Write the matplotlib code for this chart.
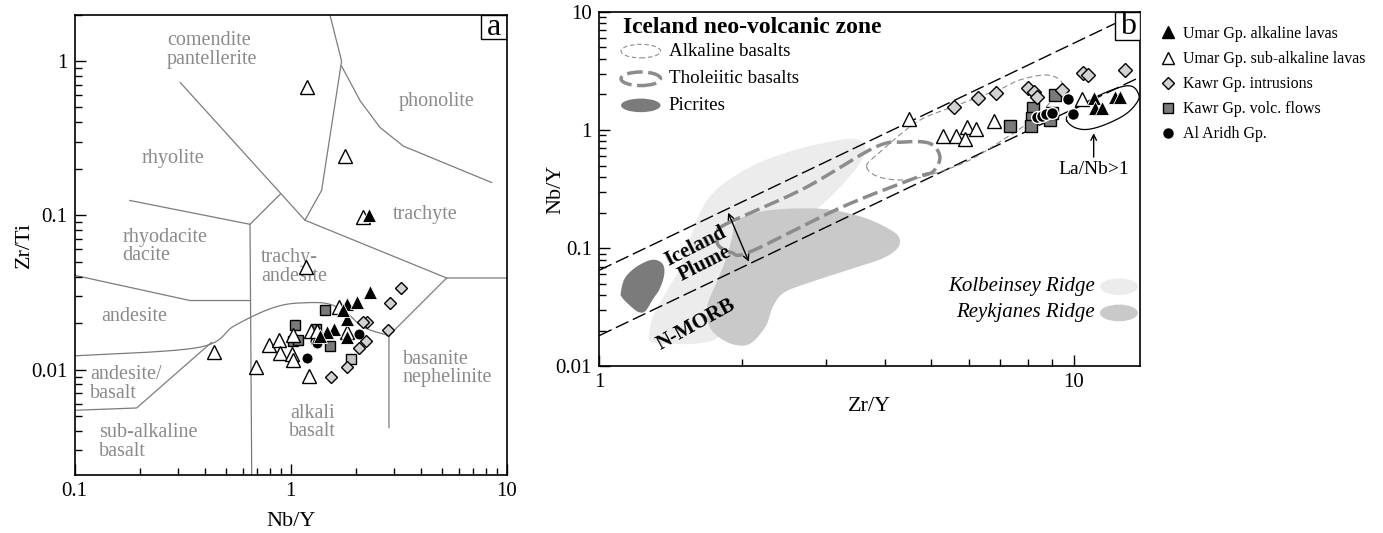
import numpy as np
import matplotlib
matplotlib.use("Agg")
import matplotlib.pyplot as plt
from matplotlib.patches import Ellipse, Rectangle
from matplotlib.lines import Line2D

plt.rcParams['font.family'] = ['Liberation Serif', 'DejaVu Serif']

# ---------------- panel a data (Nb/Y vs Zr/Ti) ----------------
a_sub_x = [1.18, 0.69, 1.22, 0.796, 0.885, 0.892, 1.01, 1.02, 1.03, 1.24, 1.33, 1.68, 1.82, 1.186, 1.78, 2.17, 0.441]
a_sub_y = [0.0461, 0.0104, 0.0091, 0.01445, 0.01556, 0.01276, 0.01262, 0.01153, 0.01679, 0.0179, 0.0179, 0.0254, 0.0176, 0.683, 0.241, 0.0968, 0.0130]
a_alk_x = [2.33, 1.83, 2.02, 1.82, 1.59, 1.47, 1.37, 1.83, 1.75, 2.31]
a_alk_y = [0.0317, 0.0267, 0.0272, 0.0212, 0.0182, 0.0176, 0.0165, 0.0162, 0.0244, 0.1008]
a_int_x = [3.23, 2.88, 2.26, 2.15, 2.83, 2.23, 2.06, 1.82, 1.54]
a_int_y = [0.0337, 0.0269, 0.0203, 0.0203, 0.0181, 0.0152, 0.0137, 0.01035, 0.0089]
a_flow_x = [1.44, 1.05, 1.03, 1.31, 1.52, 1.08]
a_flow_y = [0.0244, 0.0195, 0.0152, 0.0182, 0.0142, 0.01556]
a_flow2_x = [1.91]
a_flow2_y = [0.0117]
a_ar_x = [1.19, 1.30, 2.06, 1.33]
a_ar_y = [0.0118, 0.0152, 0.0170, 0.0148]

# field boundaries (Nb/Y, Zr/Ti)
a_bounds = [
    ([0.308, 1.164, 5.27, 10.0], [0.726, 0.0929, 0.0392, 0.0392]),
    ([5.27, 2.85, 2.85], [0.0392, 0.0166, 0.0042]),
    ([1.52, 1.72, 1.39, 1.164], [1.985, 1.0, 0.145, 0.0929]),
    ([1.72, 2.1, 2.59, 3.32, 8.52], [0.927, 0.55, 0.371, 0.281, 0.163]),
    ([0.180, 0.648, 0.893], [0.1247, 0.0874, 0.1367]),
    ([0.648, 0.66], [0.0874, 0.00207]),
    ([0.1, 0.342, 0.648], [0.0408, 0.0280, 0.0280]),
    ([0.1, 0.374, 0.543, 0.721, 0.9, 1.105, 1.468, 1.8, 2.17, 2.85],
     [0.01226, 0.0139, 0.01905, 0.0233, 0.0260, 0.0270, 0.0268, 0.0235, 0.0188, 0.0166]),
    ([0.1, 0.1936, 0.43], [0.00544, 0.00563, 0.0150]),
]
a_labels = [
    ("comendite\npantellerite", 0.267, 1.18, 'left'),
    ("phonolite", 4.74, 0.544, 'center'),
    ("rhyolite", 0.284, 0.235, 'center'),
    ("trachyte", 4.2, 0.1018, 'center'),
    ("rhyodacite\ndacite", 0.1664, 0.0629, 'left'),
    ("trachy-\nandesite", 0.7296, 0.0463, 'left'),
    ("andesite", 0.1888, 0.022, 'center'),
    ("andesite/\nbasalt", 0.1178, 0.00804, 'left'),
    ("sub-alkaline\nbasalt", 0.1297, 0.00339, 'left'),
    ("alkali\nbasalt", 1.265, 0.00455, 'center'),
    ("basanite\nnephelinite", 3.30, 0.0102, 'left'),
]

# ---------------- panel b data (Zr/Y vs Nb/Y) ----------------
b_int_x = [5.58, 6.29, 6.86, 8.02, 8.24, 8.37, 9.42, 10.47, 10.7, 12.8]
b_int_y = [1.56, 1.85, 2.04, 2.25, 2.11, 1.91, 2.18, 3.01, 2.92, 3.22]
b_flow_x = [7.33, 8.21, 8.14, 8.11, 8.91, 8.97, 9.12]
b_flow_y = [1.08, 1.52, 1.26, 1.08, 1.22, 1.38, 1.98]
b_ar_x = [8.34, 8.55, 8.75, 8.98, 9.73, 9.97]
b_ar_y = [1.28, 1.32, 1.36, 1.40, 1.82, 1.36]
b_sub_x = [4.49, 5.29, 5.64, 5.95, 6.23, 5.90, 6.77, 10.37]
b_sub_y = [1.24, 0.889, 0.889, 1.07, 1.02, 0.832, 1.20, 1.82]
b_alk_x = [11.0, 11.07, 11.43, 12.19, 12.5]
b_alk_y = [1.85, 1.52, 1.52, 1.89, 1.91]

# Iceland array bounding lines
upper_x, upper_y = [1.0, 12.2], [0.065, 7.95]
lower_x, lower_y = [1.0, 13.77], [0.0182, 2.80]

# field outlines (Zr/Y, Nb/Y)
kolb_x = [1.287, 1.280, 1.299, 1.347, 1.397, 1.475, 1.558, 1.616, 1.707, 1.870, 2.164, 2.597, 3.117, 3.415,
          3.606, 3.620, 3.415, 3.117, 2.845, 2.597, 2.244, 2.012, 1.870, 1.770, 1.616, 1.422]
kolb_y = [0.0162, 0.0205, 0.0267, 0.0348, 0.0453, 0.0673, 0.122, 0.182, 0.270, 0.376, 0.524, 0.682, 0.805, 0.844,
          0.779, 0.618, 0.430, 0.289, 0.207, 0.159, 0.107, 0.0517, 0.0233, 0.0173, 0.0157, 0.0155]
reyk_x = [1.940, 2.086, 2.413, 3.005, 3.606, 4.098, 4.288, 4.249, 3.952, 3.415, 2.793, 2.458, 2.327, 2.244,
          2.086, 1.940, 1.803, 1.707, 1.691, 1.770, 1.853, 1.905]
reyk_y = [0.164, 0.194, 0.214, 0.214, 0.182, 0.144, 0.122, 0.100, 0.082, 0.0673, 0.0517, 0.0424, 0.0325, 0.0219,
          0.0157, 0.0152, 0.0173, 0.0219, 0.0325, 0.0517, 0.082, 0.122]
pic_x = [1.112, 1.132, 1.185, 1.263, 1.322, 1.366, 1.371, 1.342, 1.299, 1.252, 1.211, 1.164, 1.118]
pic_y = [0.0424, 0.0552, 0.0673, 0.0778, 0.0794, 0.0719, 0.059, 0.0453, 0.0371, 0.0294, 0.0289, 0.0325, 0.0384]
thol_x = [1.85, 2.7, 3.8, 4.37, 4.97, 5.22, 5.05, 4.67, 3.24, 2.09, 1.90, 1.78, 1.79]
thol_y = [0.16, 0.32, 0.71, 0.79, 0.77, 0.594, 0.445, 0.398, 0.222, 0.094, 0.092, 0.107, 0.135]
alkb_x = [3.66, 3.85, 4.67, 5.56, 6.98, 7.69, 8.75, 9.41, 9.26, 8.61, 8.2, 7.0, 6.0, 5.0, 4.37, 3.87]
alkb_y = [0.49, 0.62, 1.17, 1.57, 2.21, 2.65, 2.92, 2.56, 2.04, 1.48, 1.22, 0.80, 0.55, 0.42, 0.378, 0.403]
lanb_x = [9.65, 10.05, 10.72, 11.72, 12.91, 13.66, 13.6, 13.2, 12.5, 11.35, 10.3, 9.77]
lanb_y = [1.20, 1.046, 1.013, 1.124, 1.38, 1.79, 2.11, 2.35, 2.30, 1.98, 1.60, 1.37]


def smooth(xs, ys, closed=True, n=24):
    # Catmull-Rom through the outline points, done in log space
    P = np.column_stack([np.log10(xs), np.log10(ys)])
    m = len(P)
    if not closed:
        P = np.vstack([P[0], P, P[-1]])
    segs = []
    rng = range(m) if closed else range(1, m)
    for i in rng:
        if closed:
            p0, p1, p2, p3 = P[(i - 1) % m], P[i], P[(i + 1) % m], P[(i + 2) % m]
        else:
            p0, p1, p2, p3 = P[i - 1], P[i], P[i + 1], P[i + 2]
        t = np.linspace(0, 1, n, endpoint=False)[:, None]
        segs.append(0.5 * (2 * p1 + (-p0 + p2) * t + (2 * p0 - 5 * p1 + 4 * p2 - p3) * t ** 2
                           + (-p0 + 3 * p1 - 3 * p2 + p3) * t ** 3))
    out = np.vstack(segs + [segs[0][:1]] if closed else segs + [P[-2][None, :]])
    return 10 ** out[:, 0], 10 ** out[:, 1]


fig = plt.figure(figsize=(13.83, 5.33), dpi=100)
axa = fig.add_axes([0.0540, 0.1088, 0.3124, 0.8638])
axb = fig.add_axes([0.4331, 0.3124, 0.3912, 0.6656])

GRAY_TXT = '#8a8a8a'
LINE_G = '#7c7c7c'

# ---------------- panel a ----------------
axa.set_xscale('log')
axa.set_yscale('log')
axa.set_xlim(0.1, 10)
axa.set_ylim(0.00207, 2.0)
for i, (bx, by) in enumerate(a_bounds):
    if i == 7:
        bx, by = smooth(bx, by, closed=False)
    axa.plot(bx, by, color=LINE_G, lw=0.9, zorder=1)
for txt, lx, ly, ha in a_labels:
    axa.text(lx, ly, txt, ha=ha, va='center', fontsize=14.5, color=GRAY_TXT, linespacing=0.95, zorder=1)

mk = dict(ls='none', mec='black', mew=1.0)
axa.plot(a_flow_x, a_flow_y, marker='s', ms=7.5, mfc='#7a7a7a', zorder=3, **mk)
axa.plot(a_flow2_x, a_flow2_y, marker='s', ms=7.5, mfc='#c4c4c4', zorder=3, **mk)
axa.plot(a_ar_x, a_ar_y, ls='none', marker='o', ms=8, mfc='black', mec='white', mew=0.8, zorder=4)
axa.plot(a_int_x, a_int_y, marker='D', ms=6.5, mfc='#d2d2d2', zorder=5, **mk)
axa.plot(a_sub_x, a_sub_y, marker='^', ms=9.5, mfc='white', zorder=6, **mk)
axa.plot(a_alk_x, a_alk_y, marker='^', ms=9.5, mfc='black', zorder=7, ls='none', mec='white', mew=0.6)

axa.set_xticks([0.1, 1, 10])
axa.set_xticklabels(['0.1', '1', '10'])
axa.set_yticks([0.01, 0.1, 1])
axa.set_yticklabels(['0.01', '0.1', '1'])
axa.set_xlabel('Nb/Y', fontsize=16, labelpad=8)
axa.set_ylabel('Zr/Ti', fontsize=16)
axa.yaxis.set_label_coords(-0.094, 0.5)
axa.add_patch(Rectangle((0.9405, 0.948), 0.0595, 0.052, transform=axa.transAxes, fill=False, lw=1.0, zorder=8))
axa.text(0.970, 0.972, 'a', transform=axa.transAxes, ha='center', va='center', fontsize=23, zorder=9)

# ---------------- panel b ----------------
axb.set_xscale('log')
axb.set_yscale('log')
axb.set_xlim(1, 13.77)
axb.set_ylim(0.01, 10)

kx, ky = smooth(kolb_x, kolb_y)
axb.fill(kx, ky, color='#ececec', lw=0, zorder=1)
rx, ry = smooth(reyk_x, reyk_y)
axb.fill(rx, ry, color='#c9c9c9', lw=0, zorder=1.1)
px, py = smooth(pic_x, pic_y)
axb.fill(px, py, color='#7b7b7b', lw=0, zorder=1.2)

axb.plot(upper_x, upper_y, color='black', lw=1.0, ls=(0, (10, 3.5)), zorder=2)
axb.plot(lower_x, lower_y, color='black', lw=1.0, ls=(0, (10, 3.5)), zorder=2)
tx, ty = smooth(thol_x, thol_y)
axb.plot(tx, ty, color='#8c8c8c', lw=2.5, ls=(0, (4.5, 1.6)), zorder=2.2)
ax_, ay_ = smooth(alkb_x, alkb_y)
axb.plot(ax_, ay_, color='#8c8c8c', lw=0.8, ls=(0, (5, 3)), zorder=2.1)
lx_, ly_ = smooth(lanb_x, lanb_y)
axb.plot(lx_, ly_, color='black', lw=0.9, zorder=2.3)

axb.plot(b_flow_x, b_flow_y, marker='s', ms=8.5, mfc='#7a7a7a', zorder=3, **mk)
axb.plot(b_int_x, b_int_y, marker='D', ms=7, mfc='#d2d2d2', zorder=4, **mk)
axb.plot(b_ar_x, b_ar_y, ls='none', marker='o', ms=8.5, mfc='black', mec='white', mew=1.0, zorder=5)
axb.plot(b_sub_x, b_sub_y, marker='^', ms=10, mfc='white', zorder=6, **mk)
axb.plot(b_alk_x, b_alk_y, marker='^', ms=10, mfc='black', zorder=7, ls='none', mec='white', mew=0.6)

axb.text(1.632, 0.0877, 'Iceland\nPlume', rotation=27, rotation_mode='anchor', ha='center', va='center',
         fontsize=15, fontweight='bold', linespacing=0.95, zorder=8)
axb.text(1.60, 0.0226, 'N-MORB', rotation=29, rotation_mode='anchor', ha='center', va='center',
         fontsize=15, fontweight='bold', zorder=8)
axb.annotate('', xy=(1.87, 0.2), xytext=(2.068, 0.0769),
             arrowprops=dict(arrowstyle='<->', lw=1.0, color='black', shrinkA=0, shrinkB=0,
                             mutation_scale=10), zorder=8)
axb.annotate('', xy=(11.0, 0.94), xytext=(11.0, 0.59),
             arrowprops=dict(arrowstyle='->', lw=1.0, color='black', shrinkA=0, shrinkB=0,
                             mutation_scale=10), zorder=8)
axb.text(11.0, 0.46, 'La/Nb>1', ha='center', va='center', fontsize=14, zorder=8)

# legend of the Iceland fields
T = axb.transAxes
axb.text(0.044, 0.956, 'Iceland neo-volcanic zone', transform=T, fontsize=17, fontweight='bold',
         ha='left', va='center', zorder=9)
axb.add_patch(Ellipse((0.0773, 0.889), 0.073, 0.0383, transform=T, fill=False, ec='#8c8c8c', lw=0.8,
                      ls=(0, (4, 2.5)), zorder=9))
axb.add_patch(Ellipse((0.0773, 0.811), 0.073, 0.0383, transform=T, fill=False, ec='#8c8c8c', lw=2.5,
                      ls=(0, (4.5, 1.6)), zorder=9))
axb.add_patch(Ellipse((0.0773, 0.736), 0.073, 0.0383, transform=T, fc='#7b7b7b', lw=0, zorder=9))
for txt, yy in [('Alkaline basalts', 0.889), ('Tholeiitic basalts', 0.811), ('Picrites', 0.736)]:
    axb.text(0.129, yy, txt, transform=T, fontsize=13.7, ha='left', va='center', zorder=9)

axb.text(0.917, 0.225, 'Kolbeinsey Ridge', transform=T, fontsize=15, style='italic', ha='right', va='center')
axb.text(0.917, 0.151, 'Reykjanes Ridge', transform=T, fontsize=15, style='italic', ha='right', va='center')
axb.add_patch(Ellipse((0.961, 0.225), 0.070, 0.047, transform=T, fc='#ececec', lw=0))
axb.add_patch(Ellipse((0.961, 0.151), 0.070, 0.047, transform=T, fc='#c9c9c9', lw=0))

axb.add_patch(Rectangle((0.954, 0.920), 0.046, 0.080, transform=T, fc='white', ec='black', lw=1.0, zorder=9))
axb.text(0.977, 0.958, 'b', transform=T, ha='center', va='center', fontsize=23, zorder=10)

axb.set_xticks([1, 10])
axb.set_xticklabels(['1', '10'])
axb.set_yticks([0.01, 0.1, 1, 10])
axb.set_yticklabels(['0.01', '0.1', '1', '10'])
axb.set_xlabel('Zr/Y', fontsize=16, labelpad=3)
axb.set_ylabel('Nb/Y', fontsize=16)
axb.yaxis.set_label_coords(-0.062, 0.5)

for ax in (axa, axb):
    for s in ax.spines.values():
        s.set_linewidth(1.2)
    ax.tick_params(which='both', direction='in', top=False, right=False, labelsize=15, width=1.0)
    ax.tick_params(which='major', length=8, pad=5)
    ax.tick_params(which='minor', length=5)
    ax.yaxis.set_minor_formatter(matplotlib.ticker.NullFormatter())
    ax.xaxis.set_minor_formatter(matplotlib.ticker.NullFormatter())

# outer legend
handles = [
    Line2D([], [], ls='none', marker='^', ms=8, mfc='black', mec='black'),
    Line2D([], [], ls='none', marker='^', ms=8, mfc='white', mec='black', mew=1.0),
    Line2D([], [], ls='none', marker='D', ms=6, mfc='#d2d2d2', mec='black', mew=1.0),
    Line2D([], [], ls='none', marker='s', ms=7, mfc='#7a7a7a', mec='black', mew=1.0),
    Line2D([], [], ls='none', marker='o', ms=6.5, mfc='black', mec='black'),
]
labels = ['Umar Gp. alkaline lavas', 'Umar Gp. sub-alkaline lavas', 'Kawr Gp. intrusions',
          'Kawr Gp. volc. flows', 'Al Aridh Gp.']
fig.legend(handles, labels, loc='upper left', bbox_to_anchor=(1160 / 1383, 1 - 26 / 533), frameon=False,
           fontsize=11.5, handlelength=1.0, handletextpad=0.45, labelspacing=0.57, borderpad=0,
           borderaxespad=0)

fig.savefig('out.png', dpi=100)
